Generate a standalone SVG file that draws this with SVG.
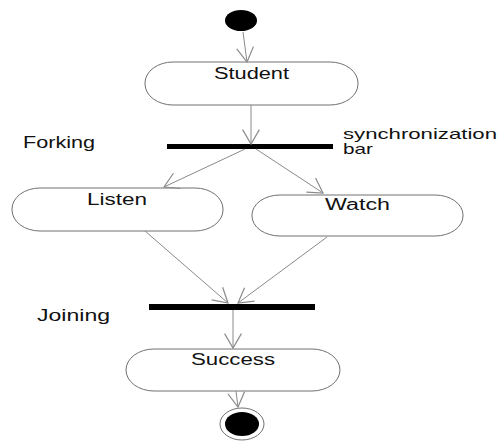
<svg xmlns="http://www.w3.org/2000/svg" width="504" height="446" viewBox="0 0 504 446">
  <style>
    .node { fill: #ffffff; stroke: #707070; stroke-width: 1; }
    .bar { fill: #000000; }
    .lbl { font-family: "Liberation Sans", Arial, sans-serif; font-size: 16px; fill: #111111; }
    .note { font-size: 14.5px; }
    .edge { stroke: #8a8a8a; stroke-width: 1; fill: none; marker-end: url(#open); }
  </style>
  <defs>
    <marker id="open" markerUnits="userSpaceOnUse" markerWidth="24" markerHeight="24" viewBox="-14 -10 16 20" refX="0" refY="0" orient="auto">
      <path d="M-12,-7 L0,0 L-12,7" fill="none" stroke="#8a8a8a" stroke-width="1"/>
    </marker>
  </defs>
  <rect width="504" height="446" fill="#ffffff"/>

  <g id="start">
    <ellipse cx="241" cy="20.5" rx="16" ry="10.5" fill="#000000"/>
  </g>

  <g id="student">
    <rect class="node" x="145" y="62" width="213" height="43" rx="28" ry="21"/>
    <text class="lbl" x="214" y="79" textLength="75" lengthAdjust="spacingAndGlyphs">Student</text>
  </g>

  <g id="fork-bar">
    <rect class="bar" x="167" y="144" width="166" height="5"/>
  </g>

  <g id="listen">
    <rect class="node" x="12" y="188" width="211" height="43" rx="28" ry="21"/>
    <text class="lbl" x="87" y="205" textLength="60" lengthAdjust="spacingAndGlyphs">Listen</text>
  </g>

  <g id="watch">
    <rect class="node" x="252" y="195" width="211" height="41" rx="28" ry="20"/>
    <text class="lbl" x="325" y="210" textLength="65" lengthAdjust="spacingAndGlyphs">Watch</text>
  </g>

  <g id="join-bar">
    <rect class="bar" x="149" y="304" width="166" height="6"/>
  </g>

  <g id="success">
    <rect class="node" x="126" y="349" width="214" height="42" rx="28" ry="21"/>
    <text class="lbl" x="191" y="365" textLength="84" lengthAdjust="spacingAndGlyphs">Success</text>
  </g>

  <g id="end">
    <ellipse cx="242" cy="424" rx="22" ry="16" fill="#ffffff" stroke="#707070" stroke-width="1"/>
    <ellipse cx="242" cy="424" rx="17" ry="12" fill="#000000"/>
  </g>

  <g id="labels">
    <text class="lbl" x="23" y="148" textLength="72" lengthAdjust="spacingAndGlyphs">Forking</text>
    <text class="lbl note" x="343" y="139" textLength="154" lengthAdjust="spacingAndGlyphs">synchronization</text>
    <text class="lbl note" x="343" y="154" textLength="30" lengthAdjust="spacingAndGlyphs">bar</text>
    <text class="lbl" x="37" y="321" textLength="73" lengthAdjust="spacingAndGlyphs">Joining</text>
  </g>

  <g id="connectors">
    <line class="edge" x1="243" y1="32" x2="247" y2="62"/>
    <line class="edge" x1="251" y1="105" x2="251" y2="144"/>
    <line class="edge" x1="245" y1="149" x2="164" y2="187"/>
    <line class="edge" x1="256" y1="149" x2="323" y2="193"/>
    <line class="edge" x1="145" y1="231" x2="228" y2="303"/>
    <line class="edge" x1="327" y1="237" x2="238" y2="303"/>
    <line class="edge" x1="233" y1="310" x2="233" y2="348"/>
    <line class="edge" x1="236" y1="391" x2="238" y2="407"/>
  </g>
</svg>
